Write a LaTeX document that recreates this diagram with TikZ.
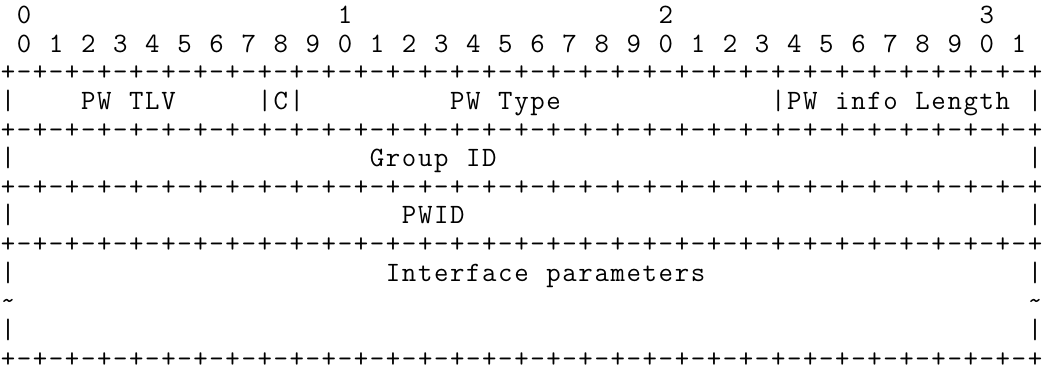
\documentclass[tikz,border=0pt]{standalone}
\usepackage{fontspec}
\setmonofont{Latin Modern Mono}
\def\cw{16.046}
\newcommand\rowbase[1]{(23.4+28.65*(#1-1))}
\makeatletter
\newcommand\asciistr[3]{%
  \pgfmathtruncatemacro\as@col{#2}%
  \@tfor\as@ch:=#3\do{%
    \node[ch] (r#1c\as@col) at ({(\as@col+0.5)*\cw},{\rowbase{#1}}) {\as@ch};%
    \pgfmathtruncatemacro\as@col{\as@col+1}%
  }%
}
\makeatother
\begin{document}
\begin{tikzpicture}[x=1pt,y=-1pt,
  ch/.style={inner sep=0pt, outer sep=0pt, anchor=base, text=black,
    font=\ttfamily\fontsize{28}{28}\selectfont}]
\useasboundingbox[fill=white] (0,0) rectangle (1043,376);
% row 1: tens of bit numbers
\asciistr{1}{1}{0}
\asciistr{1}{21}{1}
\asciistr{1}{41}{2}
\asciistr{1}{61}{3}
% row 2: bit numbers
\foreach \b in {0,...,31} {
  \pgfmathtruncatemacro\dg{mod(\b,10)}
  \pgfmathtruncatemacro\cc{2*\b+1}
  \node[ch] (r2c\cc) at ({(\cc+0.5)*\cw},{\rowbase{2}}) {\dg};
}
% separator rows
\foreach \r in {3,5,7,9,13} {
  \foreach \c in {0,...,64} {
    \node[ch] (r\r c\c) at ({(\c+0.5)*\cw},{\rowbase{\r}}) {\ifodd\c -\else +\fi};
  }
}
% row 4
\asciistr{4}{0}{|}
\asciistr{4}{5}{PW}
\asciistr{4}{8}{TLV}
\asciistr{4}{16}{|C|}
\asciistr{4}{28}{PW}
\asciistr{4}{31}{Type}
\asciistr{4}{48}{|PW}
\asciistr{4}{52}{info}
\asciistr{4}{57}{Length}
\asciistr{4}{64}{|}
% row 6
\asciistr{6}{0}{|}
\asciistr{6}{23}{Group}
\asciistr{6}{29}{ID}
\asciistr{6}{64}{|}
% row 8
\asciistr{8}{0}{|}
\asciistr{8}{25}{PWID}
\asciistr{8}{64}{|}
% row 10
\asciistr{10}{0}{|}
\asciistr{10}{24}{Interface}
\asciistr{10}{34}{parameters}
\asciistr{10}{64}{|}
% row 11
\asciistr{11}{0}{\textasciitilde}
\asciistr{11}{64}{\textasciitilde}
% row 12
\asciistr{12}{0}{|}
\asciistr{12}{64}{|}
\end{tikzpicture}
\end{document}
